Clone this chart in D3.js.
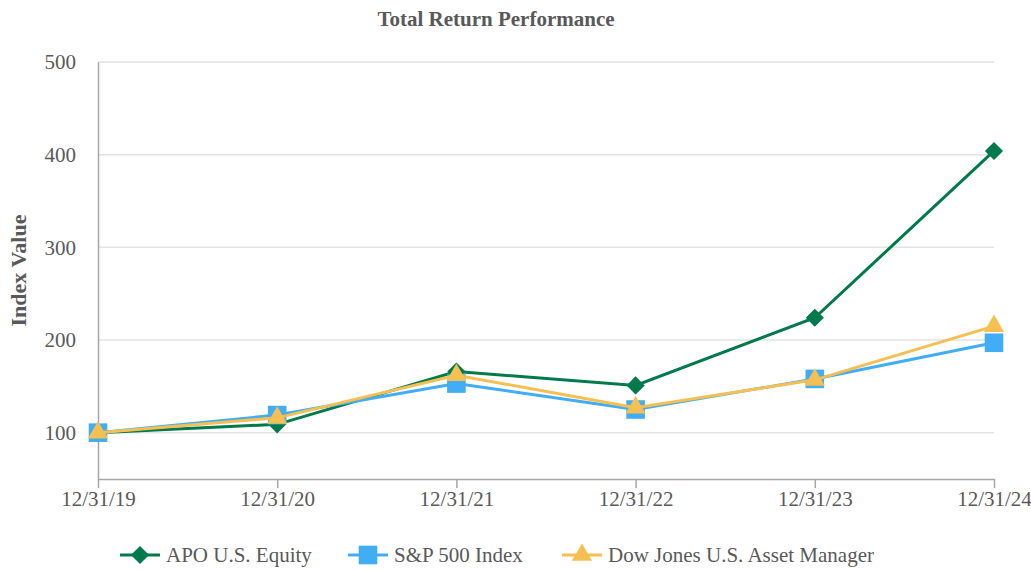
<!DOCTYPE html>
<html>
<head>
<meta charset="utf-8">
<script src="https://cdn.jsdelivr.net/npm/d3@7"></script>
<style>
  body { margin: 0; background: #fff; }
  svg text { font-family: "Liberation Serif", "Times New Roman", serif; }
</style>
</head>
<body>
<script>
// data
const dates = ["12/31/19", "12/31/20", "12/31/21", "12/31/22", "12/31/23", "12/31/24"]
const apo = [100, 109, 166, 151, 224, 404]
const spx = [100, 119, 153, 125, 158, 197]
const djam = [100, 116, 162, 127, 157, 215]
const yTicks = [100, 200, 300, 400, 500]

const seriesNames = ["APO U.S. Equity", "S&P 500 Index", "Dow Jones U.S. Asset Manager"]
const colors = ["#007a4d", "#41adf5", "#f5bf52"]
const shapes = [d3.symbolDiamond2, d3.symbolSquare2, d3.symbolTriangle2]

const width = 1031
const height = 570
const marginLeft = 98, marginRight = 37, marginTop = 62, marginBottom = 91
const textColor = "#595959"
const axisColor = "#a6a6a6"
const fontSize = "21px"

const svg = d3.select("body").append("svg")
    .attr("width", width)
    .attr("height", height)

const x = d3.scalePoint().domain(dates).range([marginLeft, width - marginRight])
const y = d3.scaleLinear().domain([50, 500]).range([height - marginBottom, marginTop])

// gridlines
svg.append("g")
    .selectAll("line")
    .data(yTicks)
    .join("line")
    .attr("x1", marginLeft)
    .attr("x2", width - marginRight)
    .attr("y1", d => y(d))
    .attr("y2", d => y(d))
    .attr("stroke", "#e3e3e3")
    .attr("stroke-width", 1.5)

// y axis
svg.append("g")
    .attr("transform", `translate(${marginLeft},0)`)
    .call(d3.axisLeft(y).tickValues(yTicks).tickSize(0).tickPadding(22))
    .call(g => g.select(".domain").attr("stroke", axisColor).attr("stroke-width", 1.5))
    .call(g => g.selectAll("text").attr("fill", textColor).style("font-size", fontSize))

// x axis
svg.append("g")
    .attr("transform", `translate(0,${height - marginBottom})`)
    .call(d3.axisBottom(x).tickSize(9).tickPadding(3).tickSizeOuter(0))
    .call(g => g.select(".domain").attr("stroke", axisColor).attr("stroke-width", 1.5))
    .call(g => g.selectAll(".tick line").attr("stroke", axisColor).attr("stroke-width", 1.5))
    .call(g => g.selectAll("text").attr("fill", textColor).style("font-size", fontSize))

// title + y label
svg.append("text")
    .attr("x", 496).attr("y", 26)
    .attr("text-anchor", "middle")
    .attr("fill", textColor)
    .style("font-size", "21px").style("font-weight", "bold")
    .text("Total Return Performance")

svg.append("text")
    .attr("transform", `translate(26,${(marginTop + height - marginBottom) / 2}) rotate(-90)`)
    .attr("text-anchor", "middle")
    .attr("fill", textColor)
    .style("font-size", "22px").style("font-weight", "bold")
    .text("Index Value")

const allSeries = [apo, spx, djam]
const line = d3.line().x((d, i) => x(dates[i])).y(d => y(d))
const sizes = [210, 440, 290]

allSeries.forEach((values, k) => {
    const g = svg.append("g")
    g.append("path")
        .datum(values)
        .attr("d", line)
        .attr("fill", "none")
        .attr("stroke", colors[k])
        .attr("stroke-width", 3)
    g.selectAll("path.pt")
        .data(values)
        .join("path")
        .attr("class", "pt")
        .attr("transform", (d, i) => `translate(${x(dates[i])},${y(d)})`)
        .attr("d", d3.symbol(shapes[k], sizes[k]))
        .attr("fill", colors[k])
})

// legend
const legendX = [120, 348, 562]
const legend = svg.append("g").attr("transform", "translate(0,555)")
seriesNames.forEach((name, k) => {
    const lg = legend.append("g").attr("transform", `translate(${legendX[k]},0)`)
    lg.append("line")
        .attr("x1", 0).attr("x2", 40)
        .attr("stroke", colors[k]).attr("stroke-width", 3)
    lg.append("path")
        .attr("transform", "translate(20,0)")
        .attr("d", d3.symbol(shapes[k], sizes[k]))
        .attr("fill", colors[k])
    lg.append("text")
        .attr("x", 46).attr("y", 0).attr("dy", "0.35em")
        .attr("fill", textColor)
        .style("font-size", fontSize)
        .text(name)
})
</script>
</body>
</html>
